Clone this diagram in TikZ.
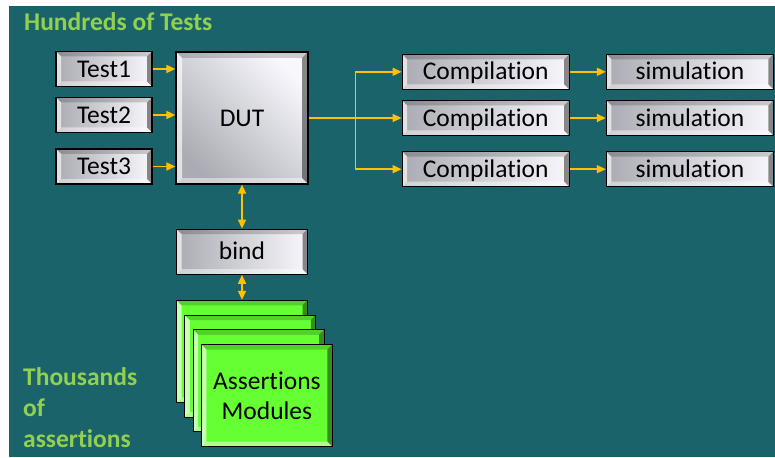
\documentclass[tikz,border=0pt]{standalone}
\usepackage{fontspec}
\setmainfont{Carlito}[Ligatures={NoCommon,NoContextual}]
\usetikzlibrary{
  arrows.meta,
  positioning,
  calc
}
\definecolor{bgteal}{HTML}{1B636B}
\definecolor{titlegreen}{HTML}{92D050}
\definecolor{wireorange}{HTML}{FFC000}
\definecolor{facedark}{HTML}{ABABB3}
\definecolor{facelight}{HTML}{F7F7FD}
\definecolor{modgreen}{HTML}{66FF33}
\newcommand\boxfont{\fontsize{25.5}{30}\selectfont}
\newcommand\titlefont{\fontsize{25.5}{31}\selectfont\bfseries}

\begin{document}
\begin{tikzpicture}[x=1pt, y=-1pt,
      % raised edge drawn inside a box
      bevel/.style={path picture={
        \coordinate (pp-nw) at (path picture bounding box.north west);
        \coordinate (pp-ne) at (path picture bounding box.north east);
        \coordinate (pp-sw) at (path picture bounding box.south west);
        \coordinate (pp-se) at (path picture bounding box.south east);
        \fill[black, fill opacity=0.18] (pp-nw) -- (pp-ne) -- ++(-#1,-#1) -- ($(pp-nw)+(#1,-#1)$) -- cycle;
        \fill[white, fill opacity=0.65] (pp-nw) -- (pp-sw) -- ++(#1,#1) -- ($(pp-nw)+(#1,-#1)$) -- cycle;
        \fill[white, fill opacity=0.45] (pp-sw) -- (pp-se) -- ++(-#1,#1) -- ($(pp-sw)+(#1,#1)$) -- cycle;
        \fill[black, fill opacity=0.45] (pp-ne) -- (pp-se) -- ++(-#1,#1) -- ($(pp-ne)+(-#1,-#1)$) -- cycle;
      }},
      bevel/.default=5pt,
      greybox/.style={
        rectangle, draw=black, line width=1.2pt, inner sep=0pt,
        left color=facedark, right color=facelight,
        minimum width=96pt, minimum height=35pt,
        font=\boxfont, text height=16.4pt, text depth=0pt, bevel
      },
      widebox/.style={greybox, minimum width=167pt},
      modbox/.style={
        rectangle, draw=black, line width=1.2pt, inner sep=0pt,
        fill=modgreen, minimum width=131pt, minimum height=102pt,
        font=\boxfont, align=center, bevel
      },
      title/.style={font=\titlefont, text=titlegreen, inner sep=0pt},
      wire/.style={line width=1.5pt, wireorange},
      arrow/.style={wire, -{Triangle[length=9pt, width=8pt]}},
      twoway/.style={wire, {Triangle[length=9pt, width=8pt]}-{Triangle[length=9pt, width=8pt]}}
    ]
      \path[use as bounding box, fill=white] (0,0) rectangle (775,457);
      \fill[bgteal] (9,6) rectangle (775,457);

      \node[title, anchor=base west] (hundreds) at (24,31) {Hundreds of Tests};
      \node[title, anchor=north west, align=left] (thousands) at (23,367) {Thousands\\of\\assertions};

      \node[greybox, minimum width=132pt, minimum height=132pt, shading angle=135, bevel=6pt] (dut) at (242,118) {DUT};
      \node[greybox] (test1) at (104,69) {Test1};
      \node[greybox] (test2) at (104,115) {Test2};
      \node[greybox] (test3) at (104,166.5) {Test3};

      \node[widebox, right=93pt of dut] (comp2) {Compilation};
      \node[widebox, above=10pt of comp2] (comp1) {Compilation};
      \node[widebox, below=15pt of comp2] (comp3) {Compilation};
      \foreach \k in {1,2,3}
        \node[widebox, right=36pt of comp\k] (sim\k) {simulation};

      \node[greybox, minimum width=131pt, minimum height=45pt, below=44pt of dut] (bind) {bind};

      % stack of assertion modules, front one last
      \node[modbox, below=25pt of bind] (mod1) {};
      \foreach \i/\j in {1/2,2/3}
        \node[modbox] (mod\j) at ($(mod\i)+(8.3,14.7)$) {};
      \node[modbox] (mod4) at ($(mod3)+(8.3,14.7)$) {Assertions\\Modules};

      \foreach \k in {1,2,3}
        \draw[arrow] (test\k.east) -- (test\k.east -| dut.west);

      \coordinate[right=47pt of dut.east] (split);
      \draw[wire] (dut.east) -- (split);
      \foreach \k in {1,2,3} {
        \draw[arrow] (split) |- (comp\k.west);
        \draw[arrow] (comp\k) -- (sim\k);
      }

      \draw[twoway] (dut.south) -- (bind.north);
      \draw[twoway] (bind.south) -- (mod1.north);
    \end{tikzpicture}
\end{document}
